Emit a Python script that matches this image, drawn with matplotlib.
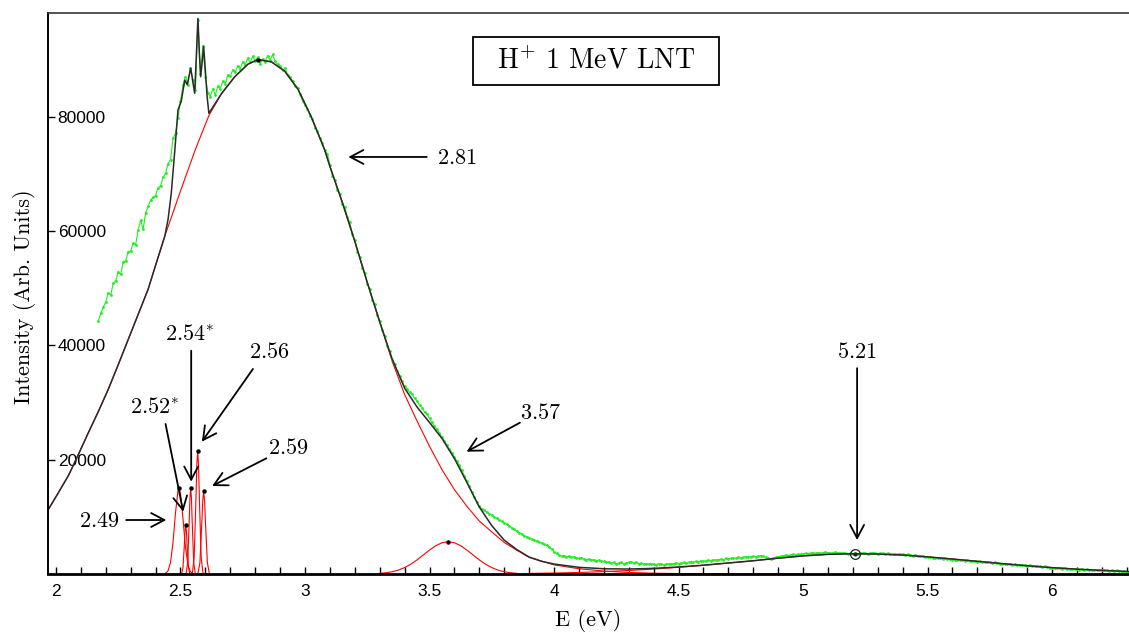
import numpy as np
import matplotlib.pyplot as plt
from matplotlib.patches import Rectangle

plt.rcParams['mathtext.fontset'] = 'cm'

# measured spectrum (green), one value every 0.01 eV starting at 2.17 eV
green_start = 2.17
green_y = [
    44300, 45600, 46700,
    47600, 49200, 48800, 50900, 51300, 52900, 52400, 54600, 54800, 56400,
    56500, 57900, 57600, 60200, 61900, 60300, 63200, 64300, 65400, 65900,
    66200, 67600, 67900, 69400, 70100, 71800, 72500, 76200, 77100, 79800,
    82800, 85500, 87000, 85600, 88600, 86500, 84600, 96900, 87500, 92400,
    87000, 84200, 83500, 84900, 83800, 85400, 84900, 86200, 85800, 87300,
    87100, 88200, 87800, 88900, 88400, 89600, 89100, 90300, 89500, 90600,
    89800, 90400, 89300, 90100, 89600, 90700, 89900, 90900, 89700, 89200,
    88900, 88100, 88600, 87300, 87000, 86200, 85400, 85100, 83900, 82800,
    82000, 81400, 80100, 79600, 78100, 77500, 76300, 75400, 74100, 73500,
    71600, 69700, 68900, 67100, 66500, 64700, 64200, 62400, 61500, 59400,
    58500, 56400, 55500, 53600, 52700, 50800, 49900, 48000, 47200, 45300,
    44300, 42600, 41700, 39900, 39000, 37400, 36700, 35500, 34600, 33700,
    32800, 32300, 31800, 31400, 30700, 30200, 29500, 29100, 28300, 27900,
    27200, 26500, 25900, 25300, 24600, 23900, 23300, 22500, 21800, 21200,
    20400, 19700, 19000, 18100, 17200, 16200, 15300, 14400, 13400, 12500,
    11800, 11400, 11100, 10800, 10500, 10300, 10000, 9700, 9500, 9200,
    8900, 8700, 8400, 8100, 7800, 7500, 7200, 7000, 6700, 6500,
    6300, 6100, 5900, 5800, 5600, 5400, 5200, 5000, 4700, 4300,
    3900, 3600, 3300, 3100, 3200, 3000, 3100, 2900, 3000, 2800,
    2700, 2800, 2600, 2500, 2600, 2400, 2500, 2300, 2400, 2200,
    2200, 2000, 2100, 1900, 2000, 1800, 1900, 2000, 1800, 1900,
    2000, 2100, 1900, 2000, 1800, 1900, 1700, 1800, 1700, 1800,
    1700, 1600, 1800, 1700, 1600, 1700, 1800, 1700, 1800, 1900,
    1800, 1900, 2000, 1900, 2000, 2100, 2000, 2200, 2100, 2300,
    2200, 2300, 2400, 2300, 2500, 2400, 2500, 2600, 2500, 2700,
    2600, 2700, 2800, 2700, 2900, 2800, 2900, 3000, 2900, 3000,
    3100, 3000, 3100, 3200, 3100, 2900, 2700, 2600, 2700, 2900,
    3000, 3100, 3200, 3300, 3200, 3300, 3400, 3300, 3400, 3500,
    3500, 3600, 3500, 3600, 3700, 3600, 3700, 3600, 3700, 3800,
    3700, 3600, 3700, 3800, 3700, 3600, 3700, 3600, 3500, 3600,
    3500, 3600, 3500, 3600, 3700, 3600, 3500, 3600, 3700, 3600,
    3500, 3600, 3600, 3500, 3600, 3500, 3400, 3500, 3400, 3500,
    3400, 3300, 3400, 3300, 3200, 3300, 3200, 3100, 3100, 3000,
    2900, 2900, 2800, 2800, 2700, 2700, 2600, 2700, 2600, 2600,
    2500, 2500, 2400, 2500, 2400, 2300, 2400, 2300, 2200, 2200,
    2100, 2200, 2100, 2000, 2100, 2000, 1900, 2000, 1900, 1800,
    1800, 1700, 1800, 1700, 1600, 1700, 1600, 1500, 1600, 1500,
    1400, 1500, 1400, 1300, 1400, 1300, 1200, 1300, 1200, 1100,
    1100, 1000, 1100, 1000, 900, 1000, 900, 800, 900, 800,
    800, 700, 800, 700, 800, 700, 600, 700, 600, 700,
    600, 700, 600, 500, 600, 500, 600, 500, 400, 500,
    400,
]
green_x = np.round(green_start + 0.01 * np.arange(len(green_y)), 2)

# total fit (black)
fit_x = [1.96, 2.00, 2.05, 2.09, 2.13, 2.17, 2.21, 2.25, 2.29, 2.33, 2.37, 2.40,
         2.437, 2.45, 2.463, 2.477, 2.49,
         2.503, 2.51, 2.517, 2.527, 2.541, 2.55, 2.557, 2.563, 2.570, 2.576,
         2.581, 2.587, 2.593, 2.60, 2.607, 2.614, 2.664, 2.718, 2.771, 2.811,
         2.865, 2.918, 2.972, 3.025, 3.079, 3.10, 3.15, 3.20, 3.25, 3.30, 3.35,
         3.40, 3.45, 3.50, 3.55, 3.60, 3.65, 3.70, 3.75, 3.80, 3.85, 3.90,
         3.95, 4.00, 4.10, 4.20, 4.30, 4.40, 4.50, 4.60, 4.70, 4.80, 4.90,
         5.00, 5.10, 5.21, 5.30, 5.40, 5.50, 5.60, 5.70, 5.80, 5.90, 6.00,
         6.10, 6.20, 6.30, 6.36]
fit_y = [10600, 13500, 17200, 20900, 24700, 28400, 32300, 36600, 41000, 45400,
         49800, 54000, 59100, 62000, 66600, 74000,
         81200, 82700, 84500, 86400, 85600, 88500, 86000, 84100, 90000, 97200,
         91000, 87000, 89500, 92300, 88000, 83500, 80600, 84000, 87000, 89200,
         90000, 89600, 88000, 84800, 80000, 74200, 71300, 65000, 58200, 51000,
         44100, 37600, 32500, 29200, 26500, 23700, 20200, 16000, 11700, 8450,
         5900, 4270, 2950, 2200, 1730, 1150, 900, 850, 970, 1210, 1530, 1910,
         2300, 2750, 3150, 3420, 3530, 3470, 3300, 2980, 2600, 2200, 1800,
         1420, 1100, 830, 610, 420, 330]

# fitted components (red)
main_x = [1.96, 2.00, 2.05, 2.09, 2.13, 2.17, 2.21, 2.25, 2.29, 2.33, 2.37, 2.40,
          2.437, 2.50, 2.56, 2.614, 2.664,
          2.718, 2.771, 2.811, 2.865, 2.918, 2.972, 3.025, 3.079, 3.10, 3.15,
          3.20, 3.25, 3.30, 3.35, 3.40, 3.45, 3.50, 3.55, 3.60, 3.65, 3.70,
          3.75, 3.80, 3.85, 3.90, 4.00, 4.10, 4.20, 4.30, 4.40, 4.50, 4.70, 5.00]
main_y = [10600, 13500, 17200, 20900, 24700, 28400, 32300, 36600, 41000, 45400,
          49800, 54000, 59100, 67000, 74300, 80200,
          84000, 87000, 89200, 90000, 89600, 88000, 84800, 80000, 74200, 71300,
          65000, 58200, 51000, 44100, 37200, 31400, 26750, 22330, 18250, 14750,
          11830, 9250, 7350, 5500, 4170, 2900, 1580, 900, 500, 250, 120, 60, 15, 0]

p249_x = [2.44, 2.45, 2.46, 2.47, 2.48, 2.49, 2.494, 2.50, 2.51, 2.52, 2.53, 2.54, 2.55]
p249_y = [96, 525, 2030, 5540, 10700, 14600, 15000, 14100, 9650, 4650, 1600, 385, 60]
p252_x = [2.505, 2.510, 2.515, 2.518, 2.521, 2.524, 2.527, 2.532, 2.537]
p252_y = [128, 1150, 4660, 7330, 8500, 7330, 4660, 1150, 128]
p254_x = [2.523, 2.529, 2.535, 2.538, 2.541, 2.544, 2.547, 2.553, 2.559]
p254_y = [167, 2030, 9100, 13240, 15000, 13240, 9100, 2030, 167]
p256_x = [2.548, 2.555, 2.562, 2.5655, 2.569, 2.5725, 2.576, 2.583, 2.590]
p256_y = [240, 2910, 13050, 18970, 21500, 18970, 13050, 2910, 240]
p259_x = [2.5705, 2.578, 2.5855, 2.589, 2.593, 2.597, 2.6005, 2.608, 2.6155]
p259_y = [160, 1960, 8800, 12600, 14500, 12600, 8800, 1960, 160]

p357_x = [3.30, 3.325, 3.35, 3.375, 3.40, 3.425, 3.45, 3.475, 3.50, 3.525, 3.55,
          3.575, 3.60, 3.625, 3.65, 3.675, 3.70, 3.725, 3.75, 3.775, 3.80, 3.825, 3.85]
p357_y = [100, 203, 380, 670, 1100, 1700, 2450, 3310, 4170, 4930, 5450,
          5630, 5450, 4930, 4170, 3310, 2450, 1700, 1100, 670, 380, 203, 100]

p521_x = [3.9, 4.0, 4.1, 4.2, 4.3, 4.4, 4.5, 4.6, 4.7, 4.8, 4.9, 5.0, 5.1, 5.21,
          5.3, 5.4, 5.5, 5.6, 5.7, 5.8, 5.9, 6.0, 6.1, 6.2, 6.3, 6.36]
p521_y = [80, 150, 250, 400, 600, 850, 1150, 1500, 1900, 2300, 2750, 3150, 3420,
          3530, 3470, 3300, 2980, 2600, 2200, 1800, 1420, 1100, 830, 610, 420, 330]

# peak positions marked with dots
dot_x = [2.494, 2.521, 2.541, 2.569, 2.593, 3.575, 2.811]
dot_y = [15000, 8500, 15000, 21500, 14500, 5630, 90000]

x_ticks = [2, 2.5, 3, 3.5, 4, 4.5, 5, 5.5, 6]
x_tick_labels = ['2', '2.5', '3', '3.5', '4', '4.5', '5', '5.5', '6']
y_ticks = [20000, 40000, 60000, 80000]
y_tick_labels = ['20000', '40000', '60000', '80000']

fig = plt.figure(figsize=(11.29, 6.33), dpi=100)
ax = fig.add_axes([48 / 1129, 1 - 573.9 / 633, 1092 / 1129, 560.9 / 633])

ax.plot(main_x, main_y, color='red', lw=0.8)
for px, py in [(p249_x, p249_y), (p252_x, p252_y), (p254_x, p254_y),
               (p256_x, p256_y), (p259_x, p259_y), (p357_x, p357_y),
               (p521_x, p521_y)]:
    ax.plot(px, py, color='red', lw=0.8)

ax.plot(green_x, green_y, color='#22ee22', lw=0.8, marker='.', ms=2)
ax.plot(fit_x, fit_y, color='#2a2a2a', lw=1.1)

ax.plot(dot_x, dot_y, 'o', color='black', ms=2.2, ls='none')
ax.plot([5.21], [3530], 'o', mfc='none', mec='#222222', ms=7, mew=0.9)
ax.plot([5.21], [3530], 'o', color='#222222', ms=2)

ax.set_xlim(1.968, 6.353)
ax.set_ylim(0, 98150)

ax.set_xticks(x_ticks)
ax.set_xticklabels(x_tick_labels)
ax.set_xticks(np.round(np.arange(2.0, 6.35, 0.1), 1), minor=True)
ax.tick_params(axis='x', which='both', direction='in', length=5, width=1,
               pad=7, labelsize=12.5, labelfontfamily='Liberation Sans')

ax.set_yticks(y_ticks)
ax.set_yticklabels(y_tick_labels)
ax.tick_params(axis='y', direction='in', length=5, width=1, pad=-7,
               labelsize=12.5, labelfontfamily='Liberation Sans')
for lbl in ax.get_yticklabels():
    lbl.set_horizontalalignment('left')

ax.spines['right'].set_visible(False)
ax.spines['top'].set_linewidth(1.2)
ax.spines['top'].set_color('#333333')
ax.spines['left'].set_linewidth(1.4)
ax.spines['bottom'].set_linewidth(2)

fig.text(588 / 1129, 1 - 620 / 633, 'E (eV)', fontfamily='cmr10', fontsize=16,
         ha='center', va='center')
fig.text(25 / 1129, 1 - 297 / 633, 'Intensity (Arb. Units)', fontfamily='cmr10',
         fontsize=16, rotation=90, ha='center', va='center')

# title box
ax.add_patch(Rectangle((0.3892, 0.8716), 0.2253, 0.0856, transform=ax.transAxes,
                       facecolor='white', edgecolor='black', lw=1.3, zorder=5))
ax.text(0.5018, 0.9144, r'$\mathrm{H}^{+}$ 1 MeV LNT', transform=ax.transAxes,
        fontfamily='cmr10', fontsize=20, ha='center', va='center', zorder=6)

# peak annotations
arrow = dict(arrowstyle='->,head_length=0.95,head_width=0.5', lw=1.3,
             color='black', shrinkA=0, shrinkB=0)
arrows = [
    ((3.174, 72960), (3.489, 72960)),
    ((3.649, 21390), (3.863, 26460)),
    ((5.217, 5930), (5.217, 36000)),
    ((2.627, 15380), (2.845, 20230)),
    ((2.586, 23140), (2.791, 35860)),
    ((2.543, 16140), (2.543, 39060)),
    ((2.511, 10890), (2.440, 26230)),
    ((2.443, 9430), (2.282, 9430)),
]
for tip, tail in arrows:
    ax.annotate('', xy=tip, xytext=tail, arrowprops=arrow)

labels = [
    (3.530, 72770, r'$2.81$', 'left'),
    (3.947, 28100, r'$3.57$', 'center'),
    (5.217, 38800, r'$5.21$', 'center'),
    (2.932, 21980, r'$2.59$', 'center'),
    (2.858, 38900, r'$2.56$', 'center'),
    (2.536, 41800, r'$2.54^{*}$', 'center'),
    (2.396, 28980, r'$2.52^{*}$', 'center'),
    (2.175, 9300, r'$2.49$', 'center'),
]
for lx, ly, txt, ha in labels:
    ax.text(lx, ly, txt, fontsize=16, ha=ha, va='center')

fig.savefig('out.png', dpi=100)
